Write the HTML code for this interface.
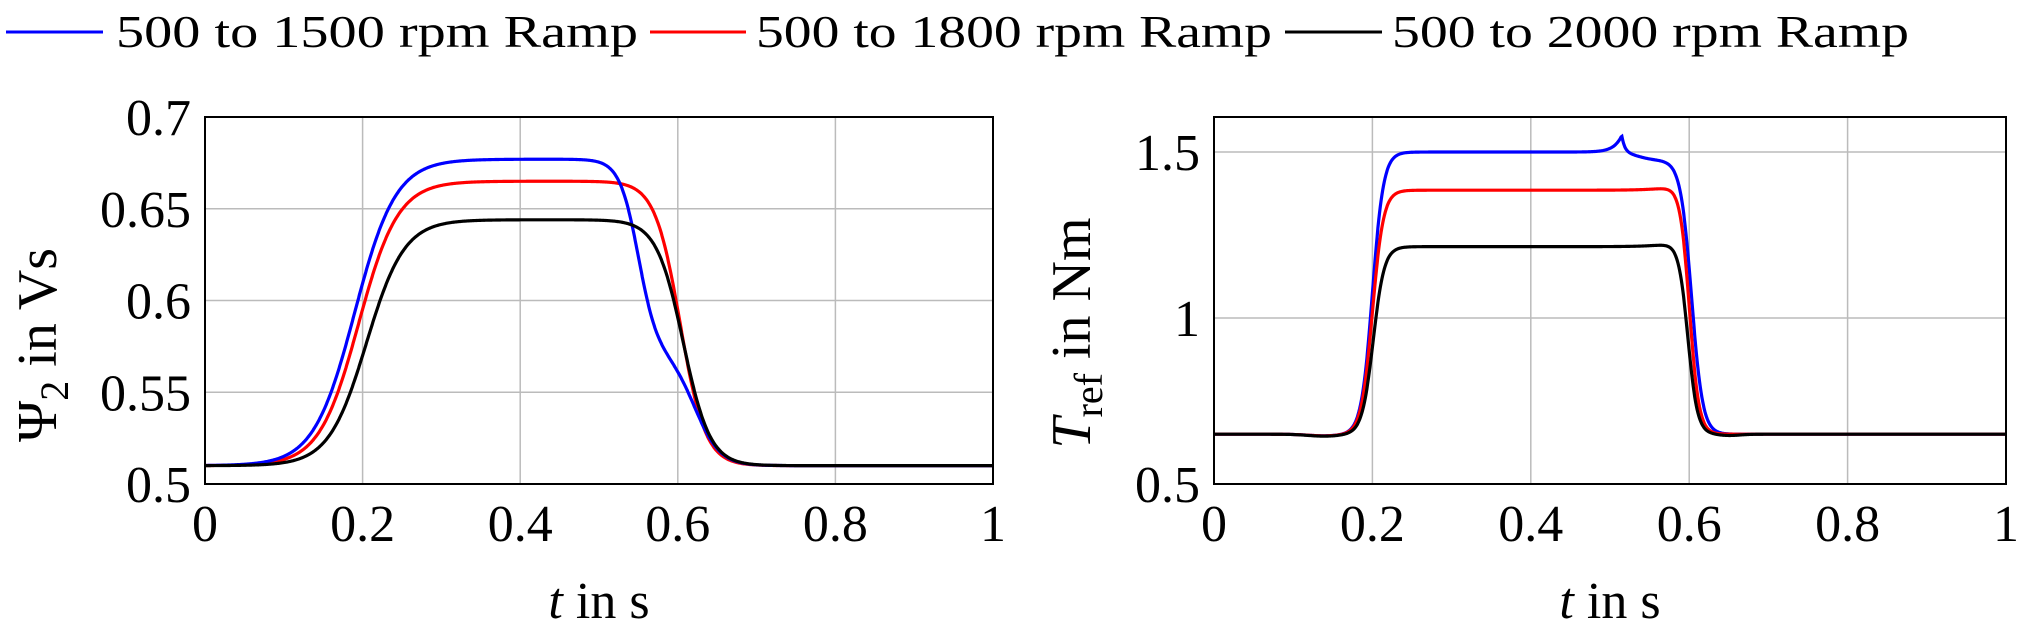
<!DOCTYPE html>
<html><head><meta charset="utf-8"><style>
html,body{margin:0;padding:0;background:#fff;}
svg{display:block;}
text{font-family:"Liberation Serif",serif;fill:#000;}
</style></head><body>
<svg id="s" width="2025" height="632" viewBox="0 0 2025 632" xmlns="http://www.w3.org/2000/svg">
<line x1="6" y1="32" x2="103" y2="32" stroke="#0000ff" stroke-width="3"/>
<text x="116" y="47" font-size="46" textLength="522" lengthAdjust="spacingAndGlyphs">500 to 1500 rpm Ramp</text>
<line x1="650" y1="32" x2="746" y2="32" stroke="#ff0000" stroke-width="3"/>
<text x="756" y="47" font-size="46" textLength="516" lengthAdjust="spacingAndGlyphs">500 to 1800 rpm Ramp</text>
<line x1="1285" y1="32" x2="1382" y2="32" stroke="#000" stroke-width="3"/>
<text x="1392" y="47" font-size="46" textLength="517" lengthAdjust="spacingAndGlyphs">500 to 2000 rpm Ramp</text>
<g id="g"></g>
</svg>
<script>
const NS="http://www.w3.org/2000/svg",g=document.getElementById('g');
function el(t,a,txt){const e=document.createElementNS(NS,t);for(const k in a)e.setAttribute(k,a[k]);if(txt!==undefined)e.textContent=txt;g.appendChild(e);return e;}
const sg=(t,c,w)=>1/(1+Math.exp(-(t-c)/w));
const ga=(t,c,w)=>Math.exp(-Math.pow((t-c)/w,2));
function panel(x0,x1,y0,y1,ymin,ymax,yt,curves){
  const X=t=>x0+(x1-x0)*t, Y=v=>y1-(y1-y0)*(v-ymin)/(ymax-ymin);
  [0.2,0.4,0.6,0.8].forEach(t=>el('line',{x1:X(t),x2:X(t),y1:y0,y2:y1,stroke:'#bbb','stroke-width':1.5}));
  yt.forEach(v=>{if(v>ymin&&v<ymax)el('line',{x1:x0,x2:x1,y1:Y(v),y2:Y(v),stroke:'#bbb','stroke-width':1.5});});
  curves.forEach(c=>{let d='';for(let i=0;i<=1000;i++){const t=i/1000;d+=(i?'L':'M')+X(t).toFixed(1)+','+Y(c.f(t)).toFixed(2);}
    el('path',{d:d,fill:'none',stroke:c.col,'stroke-width':3.2});});
  el('rect',{x:x0,y:y0,width:x1-x0,height:y1-y0,fill:'none',stroke:'#000','stroke-width':2});
  [0,0.2,0.4,0.6,0.8,1].forEach(t=>el('text',{x:X(t),y:541,'font-size':52,'text-anchor':'middle'},String(t)));
  yt.forEach(v=>el('text',{x:x0-14,y:Y(v)+18,'font-size':52,'text-anchor':'end'},String(v)));
  const tl=el('text',{x:(x0+x1)/2,y:618,'font-size':52,'text-anchor':'middle'});
  tl.innerHTML='<tspan font-style="italic">t</tspan> in s';
}
panel(205,993,117,484,0.5,0.7,[0.5,0.55,0.6,0.65,0.7],[
 {col:'#ff0000',f:t=>0.51+0.155*sg(t,0.195,0.025)*(1-sg(t,0.603,0.016))},
 {col:'#0000ff',f:t=>{const r=sg(t,0.19,0.026);return 0.51+r*(0.062*(1-sg(t,0.622,0.016))+0.105*(1-sg(t,0.55,0.012)));}},
 {col:'#000',f:t=>0.51+0.134*sg(t,0.205,0.024)*(1-sg(t,0.607,0.017))}
]);
panel(1214,2006,117,484,0.5,1.6055,[0.5,1,1.5],[
 {col:'#0000ff',f:t=>{let p=1.5;if(t<0.515)p+=0.05*Math.exp((t-0.515)/0.01);else p+=0.05*Math.exp(-(t-0.515)/0.004)-0.025*sg(t,0.535,0.01);
   return 0.65+(p-0.65)*sg(t,0.2,0.007)*(1-sg(t,0.603,0.007))-0.005*ga(t,0.14,0.03);}},
 {col:'#ff0000',f:t=>0.65+(1.385+0.005*Math.exp((t-0.56)/0.02)-0.65)*sg(t,0.2,0.007)*(1-sg(t,0.6,0.006))-0.005*ga(t,0.14,0.03)},
 {col:'#000',f:t=>0.65+(1.215+0.005*Math.exp((t-0.56)/0.02)-0.65)*sg(t,0.201,0.007)*(1-sg(t,0.598,0.006))-0.006*ga(t,0.14,0.03)-0.004*ga(t,0.65,0.02)}
]);
let a=el('text',{transform:'translate(56,345) rotate(-90)','font-size':56,'text-anchor':'middle'});
a.innerHTML='Ψ<tspan font-size="40" dy="12">2</tspan><tspan dy="-12"> in Vs</tspan>';
let b=el('text',{transform:'translate(1090,333) rotate(-90)','font-size':56,'text-anchor':'middle'});
b.innerHTML='<tspan font-style="italic">T</tspan><tspan font-size="40" dy="12">ref</tspan><tspan dy="-12"> in Nm</tspan>';
</script>
</body></html>
